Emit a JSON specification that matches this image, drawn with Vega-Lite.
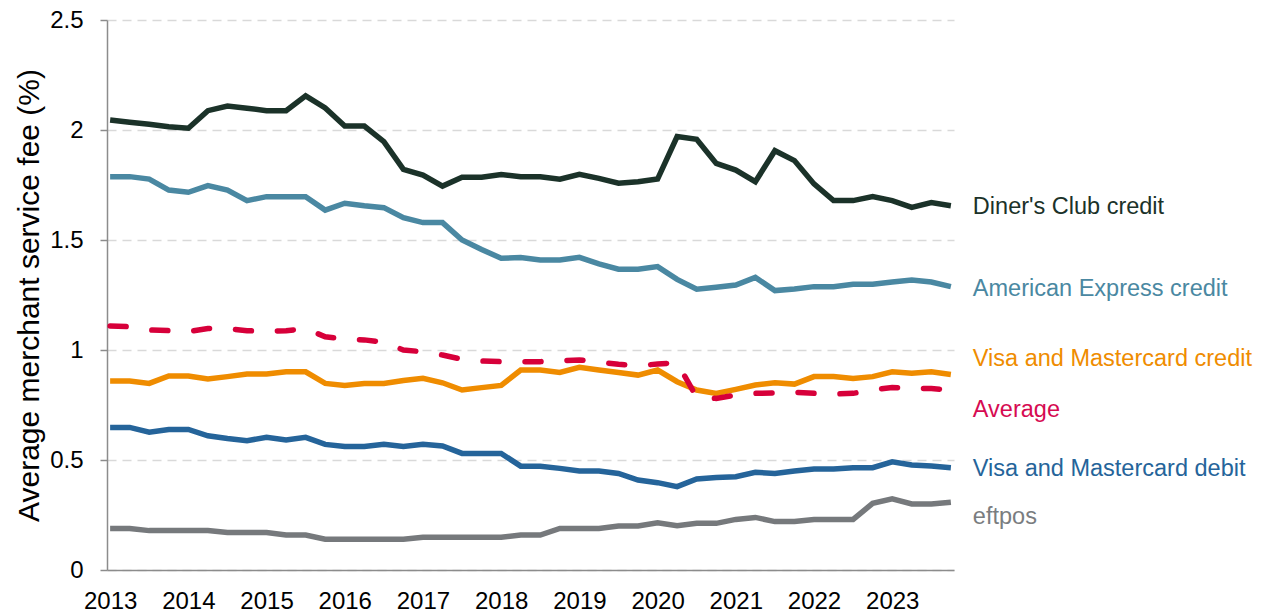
{
  "$schema": "https://vega.github.io/schema/vega-lite/v6.json",
  "width": 847,
  "height": 550,
  "autosize": {"type": "none"},
  "padding": {"left": 107, "top": 20, "right": 312, "bottom": 44},
  "background": "white",
  "config": {"font": "Liberation Sans", "view": {"stroke": null}},
  "datasets": {
    "fees": [
      {"t": 2013.00, "dc": 2.045, "ax": 1.788, "vc": 0.859, "av": 1.109, "vd": 0.648, "ef": 0.189},
      {"t": 2013.25, "dc": 2.035, "ax": 1.788, "vc": 0.859, "av": 1.106, "vd": 0.648, "ef": 0.189},
      {"t": 2013.50, "dc": 2.026, "ax": 1.777, "vc": 0.848, "av": 1.091, "vd": 0.626, "ef": 0.179},
      {"t": 2013.75, "dc": 2.015, "ax": 1.727, "vc": 0.882, "av": 1.088, "vd": 0.639, "ef": 0.179},
      {"t": 2014.00, "dc": 2.008, "ax": 1.717, "vc": 0.882, "av": 1.083, "vd": 0.639, "ef": 0.179},
      {"t": 2014.25, "dc": 2.088, "ax": 1.747, "vc": 0.868, "av": 1.098, "vd": 0.610, "ef": 0.179},
      {"t": 2014.50, "dc": 2.109, "ax": 1.727, "vc": 0.879, "av": 1.097, "vd": 0.598, "ef": 0.170},
      {"t": 2014.75, "dc": 2.099, "ax": 1.679, "vc": 0.891, "av": 1.088, "vd": 0.588, "ef": 0.170},
      {"t": 2015.00, "dc": 2.088, "ax": 1.697, "vc": 0.891, "av": 1.085, "vd": 0.603, "ef": 0.170},
      {"t": 2015.25, "dc": 2.088, "ax": 1.697, "vc": 0.901, "av": 1.088, "vd": 0.591, "ef": 0.159},
      {"t": 2015.50, "dc": 2.155, "ax": 1.697, "vc": 0.901, "av": 1.097, "vd": 0.603, "ef": 0.159},
      {"t": 2015.75, "dc": 2.100, "ax": 1.636, "vc": 0.848, "av": 1.060, "vd": 0.571, "ef": 0.140},
      {"t": 2016.00, "dc": 2.018, "ax": 1.667, "vc": 0.839, "av": 1.049, "vd": 0.561, "ef": 0.140},
      {"t": 2016.25, "dc": 2.018, "ax": 1.656, "vc": 0.848, "av": 1.046, "vd": 0.561, "ef": 0.140},
      {"t": 2016.50, "dc": 1.947, "ax": 1.647, "vc": 0.848, "av": 1.035, "vd": 0.571, "ef": 0.140},
      {"t": 2016.75, "dc": 1.821, "ax": 1.601, "vc": 0.861, "av": 1.000, "vd": 0.561, "ef": 0.140},
      {"t": 2017.00, "dc": 1.795, "ax": 1.579, "vc": 0.871, "av": 0.992, "vd": 0.571, "ef": 0.149},
      {"t": 2017.25, "dc": 1.745, "ax": 1.579, "vc": 0.851, "av": 0.977, "vd": 0.564, "ef": 0.149},
      {"t": 2017.50, "dc": 1.785, "ax": 1.500, "vc": 0.818, "av": 0.958, "vd": 0.530, "ef": 0.149},
      {"t": 2017.75, "dc": 1.785, "ax": 1.457, "vc": 0.829, "av": 0.950, "vd": 0.530, "ef": 0.149},
      {"t": 2018.00, "dc": 1.798, "ax": 1.417, "vc": 0.839, "av": 0.947, "vd": 0.530, "ef": 0.149},
      {"t": 2018.25, "dc": 1.788, "ax": 1.420, "vc": 0.909, "av": 0.947, "vd": 0.472, "ef": 0.159},
      {"t": 2018.50, "dc": 1.787, "ax": 1.409, "vc": 0.909, "av": 0.947, "vd": 0.472, "ef": 0.159},
      {"t": 2018.75, "dc": 1.776, "ax": 1.409, "vc": 0.898, "av": 0.951, "vd": 0.462, "ef": 0.189},
      {"t": 2019.00, "dc": 1.799, "ax": 1.421, "vc": 0.921, "av": 0.955, "vd": 0.450, "ef": 0.189},
      {"t": 2019.25, "dc": 1.780, "ax": 1.391, "vc": 0.909, "av": 0.944, "vd": 0.450, "ef": 0.189},
      {"t": 2019.50, "dc": 1.758, "ax": 1.367, "vc": 0.898, "av": 0.935, "vd": 0.439, "ef": 0.200},
      {"t": 2019.75, "dc": 1.765, "ax": 1.367, "vc": 0.886, "av": 0.929, "vd": 0.409, "ef": 0.200},
      {"t": 2020.00, "dc": 1.777, "ax": 1.379, "vc": 0.909, "av": 0.936, "vd": 0.397, "ef": 0.215},
      {"t": 2020.25, "dc": 1.970, "ax": 1.321, "vc": 0.856, "av": 0.942, "vd": 0.379, "ef": 0.201},
      {"t": 2020.50, "dc": 1.958, "ax": 1.276, "vc": 0.818, "av": 0.785, "vd": 0.414, "ef": 0.212},
      {"t": 2020.75, "dc": 1.848, "ax": 1.285, "vc": 0.803, "av": 0.780, "vd": 0.420, "ef": 0.212},
      {"t": 2021.00, "dc": 1.818, "ax": 1.295, "vc": 0.821, "av": 0.795, "vd": 0.424, "ef": 0.230},
      {"t": 2021.25, "dc": 1.765, "ax": 1.330, "vc": 0.841, "av": 0.803, "vd": 0.444, "ef": 0.239},
      {"t": 2021.50, "dc": 1.906, "ax": 1.270, "vc": 0.851, "av": 0.805, "vd": 0.439, "ef": 0.220},
      {"t": 2021.75, "dc": 1.861, "ax": 1.277, "vc": 0.845, "av": 0.808, "vd": 0.450, "ef": 0.220},
      {"t": 2022.00, "dc": 1.755, "ax": 1.288, "vc": 0.879, "av": 0.803, "vd": 0.459, "ef": 0.230},
      {"t": 2022.25, "dc": 1.679, "ax": 1.288, "vc": 0.879, "av": 0.800, "vd": 0.459, "ef": 0.230},
      {"t": 2022.50, "dc": 1.679, "ax": 1.299, "vc": 0.871, "av": 0.803, "vd": 0.465, "ef": 0.230},
      {"t": 2022.75, "dc": 1.697, "ax": 1.299, "vc": 0.879, "av": 0.818, "vd": 0.465, "ef": 0.303},
      {"t": 2023.00, "dc": 1.679, "ax": 1.309, "vc": 0.901, "av": 0.830, "vd": 0.492, "ef": 0.323},
      {"t": 2023.25, "dc": 1.648, "ax": 1.318, "vc": 0.894, "av": 0.825, "vd": 0.477, "ef": 0.300},
      {"t": 2023.50, "dc": 1.670, "ax": 1.309, "vc": 0.901, "av": 0.825, "vd": 0.473, "ef": 0.300},
      {"t": 2023.75, "dc": 1.656, "ax": 1.288, "vc": 0.889, "av": 0.818, "vd": 0.465, "ef": 0.308}
    ],
    "labels": [
      {"label": "Diner's Club credit", "t": 2023.75, "v": 1.651},
      {"label": "American Express credit", "t": 2023.75, "v": 1.277},
      {"label": "Visa and Mastercard credit", "t": 2023.75, "v": 0.96},
      {"label": "Average", "t": 2023.75, "v": 0.727},
      {"label": "Visa and Mastercard debit", "t": 2023.75, "v": 0.457},
      {"label": "eftpos", "t": 2023.75, "v": 0.242}
    ]
  },
  "layer": [
    {
      "data": {"name": "fees"},
      "transform": [{"fold": ["ef", "vd", "vc", "ax", "dc"], "as": ["series", "value"]}],
      "mark": {"type": "line", "strokeWidth": 5.5},
      "encoding": {
        "x": {
          "field": "t", "type": "quantitative",
          "scale": {"domain": [2012.96, 2023.79], "nice": false, "zero": false},
          "axis": {
            "title": null, "values": [2013, 2014, 2015, 2016, 2017, 2018, 2019, 2020, 2021, 2022, 2023],
            "format": "d", "ticks": false, "grid": false, "labelFontSize": 24, "labelColor": "#000000",
            "labelPadding": 19, "labelFlush": false, "domainColor": "#8c8c8c", "domainWidth": 1.5
          }
        },
        "y": {
          "field": "value", "type": "quantitative",
          "scale": {"domain": [0, 2.5], "nice": false},
          "axis": {
            "title": "Average merchant service fee (%)", "titleFontSize": 30, "titleFontWeight": "normal",
            "titleColor": "#000000", "titlePadding": 5,
            "values": [0, 0.5, 1, 1.5, 2, 2.5], "format": "~g",
            "labelFontSize": 24, "labelColor": "#000000", "labelPadding": 17,
            "tickSize": 7, "tickColor": "#8c8c8c", "tickWidth": 1.5,
            "domainColor": "#8c8c8c", "domainWidth": 1.5,
            "grid": true, "gridColor": "#d9d9d9", "gridDash": [9, 6], "gridWidth": 1.5
          }
        },
        "color": {
          "field": "series", "type": "nominal",
          "scale": {"domain": ["ef", "vd", "vc", "ax", "dc"], "range": ["#76797c", "#25649a", "#ef8c00", "#4a88a2", "#1b3229"]},
          "legend": null
        }
      }
    },
    {
      "data": {"name": "fees"},
      "mark": {"type": "line", "color": "#d7003a", "strokeWidth": 5.5, "strokeDash": [16, 26], "strokeCap": "round"},
      "encoding": {
        "x": {"field": "t", "type": "quantitative"},
        "y": {"field": "av", "type": "quantitative"}
      }
    },
    {
      "data": {"name": "labels"},
      "mark": {"type": "text", "align": "left", "baseline": "middle", "dx": 22, "fontSize": 23.5},
      "encoding": {
        "x": {"field": "t", "type": "quantitative"},
        "y": {"field": "v", "type": "quantitative"},
        "text": {"field": "label"},
        "color": {
          "field": "label", "type": "nominal",
          "scale": {
            "domain": ["Diner's Club credit", "American Express credit", "Visa and Mastercard credit", "Average", "Visa and Mastercard debit", "eftpos"],
            "range": ["#1b3229", "#4a88a2", "#ef8c00", "#d60b52", "#25649a", "#7a7d80"]
          },
          "legend": null
        }
      }
    }
  ],
  "resolve": {"scale": {"color": "independent"}}
}
